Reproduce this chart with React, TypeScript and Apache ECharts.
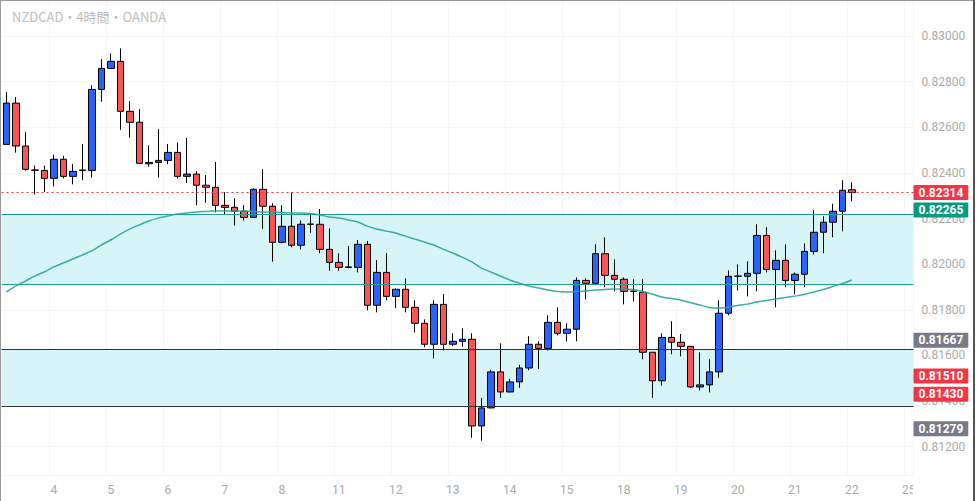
import React, { useEffect, useRef } from 'react';
import * as echarts from 'echarts';

// Day labels (first 5 candles belong to the 3rd), 6 four-hour candles per day
const days = ['3', '4', '5', '6', '7', '8', '11', '12', '13', '14', '15', '18', '19', '20', '21', '22', '25'];
const SLOTS = 96;

const opens = [
  0.82525, 0.82706, 0.82518, 0.82413, 0.82411, 0.82376, 0.82460, 0.82385, 0.82411, 0.82411,
  0.82766, 0.82858, 0.82889, 0.82670, 0.82622, 0.82446, 0.82446, 0.82455, 0.82490, 0.82385,
  0.82395, 0.82346, 0.82337, 0.82258, 0.82249, 0.82232, 0.82205, 0.82328, 0.82254, 0.82096,
  0.82166, 0.82083, 0.82176, 0.82175, 0.82065, 0.82008, 0.81986, 0.81986, 0.82087, 0.81820,
  0.81964, 0.81859, 0.81890, 0.81811, 0.81741, 0.81649, 0.81824, 0.81649, 0.81662, 0.81671,
  0.81291, 0.81370, 0.81528, 0.81440, 0.81484, 0.81545, 0.81649, 0.81631, 0.81745, 0.81697,
  0.81715, 0.81929, 0.81916, 0.82046, 0.81951, 0.81934, 0.81881, 0.81877, 0.81614, 0.81489,
  0.81679, 0.81658, 0.81640, 0.81462, 0.81471, 0.81528, 0.81785, 0.81947, 0.81947, 0.81960,
  0.82126, 0.81977, 0.82017, 0.81929, 0.81956, 0.82056, 0.82140, 0.82184, 0.82232, 0.82326,
];
const closes = [
  0.82706, 0.82518, 0.82416, 0.82412, 0.82376, 0.82460, 0.82385, 0.82407, 0.82413, 0.82766,
  0.82858, 0.82889, 0.82670, 0.82622, 0.82442, 0.82440, 0.82455, 0.82490, 0.82385, 0.82395,
  0.82346, 0.82337, 0.82258, 0.82249, 0.82232, 0.82205, 0.82328, 0.82254, 0.82096, 0.82166,
  0.82083, 0.82175, 0.82175, 0.82065, 0.82008, 0.81986, 0.81988, 0.82087, 0.81820, 0.81964,
  0.81859, 0.81890, 0.81811, 0.81741, 0.81649, 0.81824, 0.81649, 0.81662, 0.81671, 0.81291,
  0.81370, 0.81528, 0.81440, 0.81484, 0.81545, 0.81649, 0.81631, 0.81745, 0.81697, 0.81715,
  0.81929, 0.81916, 0.82046, 0.81951, 0.81934, 0.81881, 0.81882, 0.81614, 0.81489, 0.81679,
  0.81658, 0.81640, 0.81462, 0.81471, 0.81528, 0.81785, 0.81947, 0.81948, 0.81960, 0.82126,
  0.81977, 0.82017, 0.81929, 0.81956, 0.82056, 0.82140, 0.82184, 0.82232, 0.82324, 0.82314,
];
const lows = [
  0.82523, 0.82489, 0.82410, 0.82306, 0.82316, 0.82341, 0.82376, 0.82350, 0.82368, 0.82379,
  0.82712, 0.82856, 0.82589, 0.82554, 0.82440, 0.82427, 0.82379, 0.82438, 0.82376, 0.82356,
  0.82258, 0.82269, 0.82227, 0.82219, 0.82169, 0.82191, 0.82203, 0.82155, 0.82011, 0.82091,
  0.82074, 0.82065, 0.82138, 0.82048, 0.81971, 0.81971, 0.81982, 0.81964, 0.81798, 0.81789,
  0.81842, 0.81807, 0.81789, 0.81700, 0.81636, 0.81587, 0.81622, 0.81641, 0.81638, 0.81239,
  0.81226, 0.81368, 0.81414, 0.81438, 0.81458, 0.81535, 0.81541, 0.81622, 0.81688, 0.81662,
  0.81662, 0.81846, 0.81914, 0.81899, 0.81881, 0.81824, 0.81837, 0.81583, 0.81414, 0.81467,
  0.81605, 0.81596, 0.81458, 0.81447, 0.81438, 0.81502, 0.81776, 0.81885, 0.81859, 0.81881,
  0.81964, 0.81811, 0.81899, 0.81868, 0.81899, 0.82042, 0.82048, 0.82118, 0.82144, 0.82276,
];
const highs = [
  0.82755, 0.82733, 0.82579, 0.82432, 0.82432, 0.82480, 0.82475, 0.82439, 0.82527, 0.82784,
  0.82899, 0.82924, 0.82946, 0.82715, 0.82680, 0.82521, 0.82592, 0.82527, 0.82534, 0.82553,
  0.82408, 0.82391, 0.82448, 0.82316, 0.82289, 0.82259, 0.82333, 0.82417, 0.82267, 0.82259,
  0.82315, 0.82192, 0.82224, 0.82242, 0.82157, 0.82048, 0.82080, 0.82106, 0.82102, 0.82018,
  0.82049, 0.81894, 0.81938, 0.81842, 0.81758, 0.81842, 0.81869, 0.81697, 0.81719, 0.81697,
  0.81414, 0.81537, 0.81653, 0.81497, 0.81559, 0.81684, 0.81662, 0.81776, 0.81811, 0.81741,
  0.81942, 0.81938, 0.82087, 0.82118, 0.82021, 0.81942, 0.81934, 0.81934, 0.81614, 0.81697,
  0.81750, 0.81694, 0.81640, 0.81614, 0.81583, 0.81842, 0.81973, 0.81999, 0.82013, 0.82175,
  0.82162, 0.82061, 0.82087, 0.81964, 0.82091, 0.82236, 0.82210, 0.82265, 0.82368, 0.82359,
];
const movingAvg = [
  0.81878, 0.81904, 0.81926, 0.81948, 0.81966, 0.81988, 0.82005, 0.82023, 0.82040, 0.82058,
  0.82084, 0.82106, 0.82132, 0.82154, 0.82172, 0.82189, 0.82202, 0.82211, 0.82220, 0.82224,
  0.82229, 0.82231, 0.82233, 0.82233, 0.82233, 0.82233, 0.82231, 0.82229, 0.82229, 0.82226,
  0.82224, 0.82224, 0.82222, 0.82216, 0.82207, 0.82202, 0.82194, 0.82185, 0.82167, 0.82154,
  0.82145, 0.82137, 0.82123, 0.82110, 0.82097, 0.82084, 0.82066, 0.82049, 0.82031, 0.82010,
  0.81983, 0.81966, 0.81948, 0.81931, 0.81917, 0.81904, 0.81896, 0.81887, 0.81880, 0.81878,
  0.81880, 0.81882, 0.81887, 0.81889, 0.81891, 0.81891, 0.81889, 0.81880, 0.81869, 0.81856,
  0.81850, 0.81843, 0.81832, 0.81821, 0.81810, 0.81807, 0.81812, 0.81819, 0.81825, 0.81834,
  0.81841, 0.81847, 0.81854, 0.81860, 0.81867, 0.81878, 0.81889, 0.81902, 0.81915, 0.81931,
];

// Zones: [top, bottom]
const upperZone = [0.8222, 0.81913];
const lowerZone = [0.81628, 0.81377];
const lastPrice = 0.82314;
// Price tags: [text, value where the tag sits, colour]
const tags: [string, number, string][] = [
  ['0.82265', 0.82237, '#089981'],
  ['0.81667', 0.81667, '#787b86'],
  ['0.81510', 0.8151, '#f23645'],
  ['0.81430', 0.8143, '#f23645'],
  ['0.81279', 0.81279, '#787b86'],
];

export default function App() {
  const ref = useRef<HTMLDivElement>(null);
  useEffect(() => {
    const chart = echarts.init(ref.current!, null, { renderer: 'svg' });
    const categories = Array.from({ length: SLOTS }, (_, i) => `${days[Math.floor((i + 1) / 6)]}:${(i + 1) % 6}`);
    const candles = opens.map((o, i) => [o, closes[i], lows[i], highs[i]]);
    const isDayStart = (_i: number, v: string) => v.endsWith(':0');
    const tagLabel = (text: string, bg: string) => ({
      show: true,
      position: 'end',
      distance: 0,
      formatter: text,
      color: '#ffffff',
      backgroundColor: bg,
      fontWeight: 'bold',
      fontSize: 12,
      lineHeight: 13,
      fontFamily: 'Roboto',
      padding: [1, 5, 1, 5],
      borderRadius: 1,
      opacity: 1,
    });
    const zoneLine = (v: number, color: string) => ({
      yAxis: v,
      lineStyle: { color, width: 1, type: 'solid' },
      label: { show: false },
    });

    chart.setOption({
      animation: false,
      backgroundColor: '#ffffff',
      title: {
        text: 'NZDCAD・4時間・OANDA',
        left: 7,
        top: 5,
        textStyle: { color: '#bdbdbd', fontSize: 13, fontWeight: 'normal', fontFamily: 'Noto Sans CJK JP' },
      },
      grid: { left: 1.5, right: 63.5, top: 0, bottom: 26, containLabel: false },
      xAxis: {
        type: 'category',
        data: categories,
        boundaryGap: true,
        axisLine: { show: false },
        axisTick: { show: false, alignWithLabel: true, interval: isDayStart },
        axisLabel: {
          interval: isDayStart,
          formatter: (v: string) => v.split(':')[0],
          color: '#ababab',
          fontSize: 12,
          fontFamily: 'Roboto',
          margin: 9,
        },
        splitLine: { show: true, interval: isDayStart, lineStyle: { color: '#f6f6f6', width: 1 } },
      },
      yAxis: {
        type: 'value',
        position: 'right',
        scale: true,
        min: 0.81076,
        max: 0.83158,
        splitNumber: 10,
        minInterval: 0.002,
        maxInterval: 0.002,
        axisLine: { show: false },
        axisTick: { show: false },
        splitLine: { show: true, lineStyle: { color: '#f6f6f6', width: 1 } },
        axisLabel: {
          showMinLabel: false,
          showMaxLabel: false,
          color: '#ababab',
          fontSize: 12,
          fontFamily: 'Roboto',
          margin: 8,
          formatter: (v: number) => v.toFixed(5),
        },
      },
      series: [
        {
          name: 'zones',
          type: 'line',
          data: [],
          z: 1,
          silent: true,
          markArea: {
            silent: true,
            itemStyle: { color: '#d7f4f7' },
            data: [
              [{ yAxis: upperZone[0] }, { yAxis: upperZone[1] }],
              [{ yAxis: lowerZone[0] }, { yAxis: lowerZone[1] }],
            ],
          },
        },
        {
          name: 'NZDCAD',
          type: 'candlestick',
          data: candles,
          z: 3,
          barWidth: 7,
          itemStyle: {
            color: '#2962ff',
            color0: '#ff5252',
            borderColor: '#000000',
            borderColor0: '#000000',
            borderColorDoji: '#000000',
            borderWidth: 1,
          },
          markLine: {
            silent: true,
            precision: 6,
            symbol: ['none', 'none'],
            label: { show: false },
            data: [
              zoneLine(upperZone[0], '#22a08f'),
              zoneLine(upperZone[1], '#22a08f'),
              zoneLine(lowerZone[0], '#333333'),
              zoneLine(lowerZone[1], '#333333'),
              {
                yAxis: lastPrice,
                lineStyle: { color: '#f23645', width: 1, type: [2, 3] },
                label: tagLabel(lastPrice.toFixed(5), '#f23645'),
              },
              ...tags.map(([text, v, c]) => ({
                yAxis: v,
                lineStyle: { color: 'rgba(0,0,0,0)', width: 1, type: 'solid' },
                label: tagLabel(text, c),
              })),
            ],
          },
        },
        {
          name: 'MA',
          type: 'line',
          data: movingAvg,
          z: 4,
          smooth: 0.3,
          showSymbol: false,
          silent: true,
          lineStyle: { color: '#26a69a', width: 1.5, opacity: 0.9 },
        },
      ],
      graphic: [
        { type: 'rect', shape: { x: 913, y: 477, width: 64, height: 24 }, style: { fill: '#ffffff' }, z: 50, silent: true },
        { type: 'line', shape: { x1: 0.5, y1: 0, x2: 0.5, y2: 501 }, style: { stroke: '#9a9a9a', lineWidth: 1 }, z: 60, silent: true },
        { type: 'line', shape: { x1: 0, y1: 0.5, x2: 974, y2: 0.5 }, style: { stroke: '#9a9a9a', lineWidth: 1 }, z: 60, silent: true },
        { type: 'line', shape: { x1: 974, y1: 0, x2: 974, y2: 501 }, style: { stroke: '#555555', lineWidth: 2 }, z: 60, silent: true },
      ],
    });
    return () => chart.dispose();
  }, []);
  return (
    <div
      ref={ref}
      style={{ position: 'fixed', left: 0, top: 0, width: 977, height: 501, background: '#ffffff' }}
    />
  );
}
